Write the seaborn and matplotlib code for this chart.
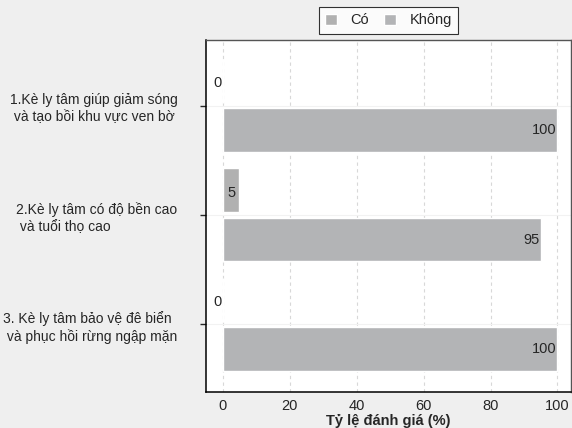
import matplotlib
matplotlib.use("Agg")
import matplotlib.pyplot as plt
import pandas as pd
import seaborn as sns

# data
items = ["1.Kè ly tâm giúp giảm sóng\n và tạo bồi khu vực ven bờ",
         "2.Kè ly tâm có độ bền cao\n và tuổi thọ cao",
         "3. Kè ly tâm bảo vệ đê biển\n và phục hồi rừng ngập mặn"]
groups = ["Có", "Không"]
co_values = [0, 5, 0]
khong_values = [100, 95, 100]
colors = ["#b1b1b1", "#b2b4b7"]

df = pd.DataFrame({
    "item": items * 2,
    "group": [groups[0]] * 3 + [groups[1]] * 3,
    "value": co_values + khong_values,
})

sns.set_style("white")
plt.rcParams["font.family"] = ["Liberation Sans", "DejaVu Sans"]

fig = plt.figure(figsize=(5.72, 4.28), dpi=100, facecolor="#efefef")
ax = fig.add_axes([0.360, 0.084, 0.638, 0.8225])

sns.barplot(data=df, y="item", x="value", hue="group", orient="h",
            palette=colors, width=0.9, gap=0.11, order=items,
            hue_order=groups, ax=ax, legend=True)

ax.set_xlim(-5, 104)
ax.set_ylim(2.62, -0.6)
ax.set_xticks([0, 20, 40, 60, 80, 100])
ax.tick_params(axis="x", length=0, labelsize=10.5, pad=5)
ax.tick_params(axis="y", length=4.5, width=1, direction="out", labelsize=10, pad=16, left=True)
for lbl in ax.get_yticklabels():
    lbl.set_multialignment("left")
    lbl.set_linespacing(1.3)

ax.grid(axis="x", linestyle=(0, (3, 3)), color="#d8d8d8", lw=0.8)
ax.grid(axis="y", color="#f2f2f2", lw=0.8)
ax.set_axisbelow(True)

for s in ["left", "bottom"]:
    ax.spines[s].set_color("black")
    ax.spines[s].set_linewidth(1.1)
for s in ["top", "right"]:
    ax.spines[s].set_color("#555555")
    ax.spines[s].set_linewidth(1.0)

ax.set_ylabel("")
ax.set_xlabel("Tỷ lệ đánh giá (%)", fontsize=10.5, fontweight="bold", labelpad=1)

# value labels
co_bars, khong_bars = ax.containers[0], ax.containers[1]
for bar, v in zip(co_bars, co_values):
    y = bar.get_y() + bar.get_height() / 2 + 0.02
    ax.text(v / 2 - (1.5 if v == 0 else 0), y, str(v), ha="center", va="center", fontsize=10.5)
for bar, v in zip(khong_bars, khong_values):
    y = bar.get_y() + bar.get_height() / 2
    ax.text(v - 0.4, y, str(v), ha="right", va="center", fontsize=10.5)

ax.legend(loc="lower center", bbox_to_anchor=(0.5, 1.017), ncol=2, frameon=True,
          fancybox=False, edgecolor="black", fontsize=10.5, handlelength=0.85,
          handleheight=0.85, columnspacing=1.0, handletextpad=0.9,
          borderpad=0.45, borderaxespad=0, title=None)
ax.get_legend().get_frame().set_linewidth(0.8)

fig.savefig("out.png", dpi=100, facecolor=fig.get_facecolor())
